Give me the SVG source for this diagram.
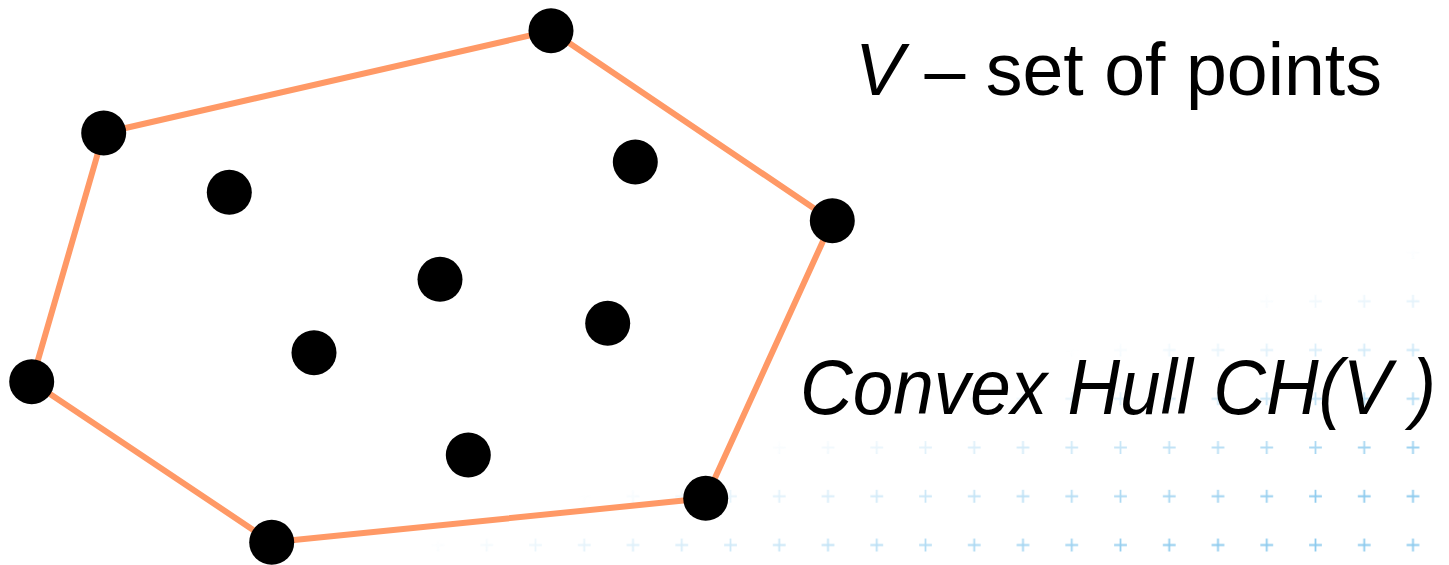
<svg xmlns="http://www.w3.org/2000/svg" width="1449" height="565" viewBox="0 0 1449 565">
  <style>
    .edge { stroke: #ff9966; stroke-width: 6; fill: none; stroke-linecap: round; }
    .pt { fill: #000000; }
    .lbl { font-family: "Liberation Sans", Arial, Helvetica, sans-serif; fill: #000000; }
    .it { font-style: italic; }
    .cross { stroke: #8ecbee; stroke-width: 1.8; fill: none; }
  </style>
  <defs>
    <pattern id="grid" patternUnits="userSpaceOnUse" x="23.625" y="-15.6" width="48.75" height="48.75">
      <path class="cross" d="M18,24.375 H30.75 M24.375,18 V30.75"/>
    </pattern>
    <linearGradient id="fade" gradientUnits="userSpaceOnUse" x1="1000" y1="370" x2="1063" y2="581">
      <stop offset="0" stop-color="#ffffff" stop-opacity="0"/>
      <stop offset="1" stop-color="#ffffff" stop-opacity="1"/>
    </linearGradient>
    <mask id="fadeMask" maskUnits="userSpaceOnUse" x="0" y="0" width="1449" height="565">
      <rect x="0" y="0" width="1449" height="565" fill="url(#fade)"/>
    </mask>
  </defs>
  <rect x="0" y="0" width="1449" height="565" fill="#ffffff"/>
  <g id="background">
    <rect x="400" y="225" width="1049" height="340" fill="url(#grid)" mask="url(#fadeMask)"/>
  </g>
  <g id="connectors">
    <line class="edge" x1="103.7" y1="133" x2="551" y2="30.7"/>
    <line class="edge" x1="551" y1="30.7" x2="832.3" y2="220.7"/>
    <line class="edge" x1="832.3" y1="220.7" x2="705.7" y2="498.3"/>
    <line class="edge" x1="705.7" y1="498.3" x2="271.7" y2="542.3"/>
    <line class="edge" x1="271.7" y1="542.3" x2="31.7" y2="381.7"/>
    <line class="edge" x1="31.7" y1="381.7" x2="103.7" y2="133"/>
  </g>
  <g id="p1"><circle class="pt" cx="103.7" cy="133" r="22.5"/></g>
  <g id="p2"><circle class="pt" cx="551" cy="30.7" r="22.5"/></g>
  <g id="p3"><circle class="pt" cx="832.3" cy="220.7" r="22.5"/></g>
  <g id="p4"><circle class="pt" cx="705.7" cy="498.3" r="22.5"/></g>
  <g id="p5"><circle class="pt" cx="271.7" cy="542.3" r="22.5"/></g>
  <g id="p6"><circle class="pt" cx="31.7" cy="381.7" r="22.5"/></g>
  <g id="p7"><circle class="pt" cx="229.3" cy="192.3" r="22.5"/></g>
  <g id="p8"><circle class="pt" cx="635.3" cy="162" r="22.5"/></g>
  <g id="p9"><circle class="pt" cx="440" cy="279.3" r="22.5"/></g>
  <g id="p10"><circle class="pt" cx="607.7" cy="323.3" r="22.5"/></g>
  <g id="p11"><circle class="pt" cx="314" cy="352.7" r="22.5"/></g>
  <g id="p12"><circle class="pt" cx="468.3" cy="455" r="22.5"/></g>
  <g id="label-set">
    <text class="lbl" x="855" y="95" font-size="75" textLength="527" lengthAdjust="spacingAndGlyphs"><tspan class="it">V</tspan> – set of points</text>
  </g>
  <g id="label-hull">
    <text class="lbl it" x="800" y="414" font-size="78" textLength="636" lengthAdjust="spacingAndGlyphs">Convex Hull CH(V )</text>
  </g>
</svg>
